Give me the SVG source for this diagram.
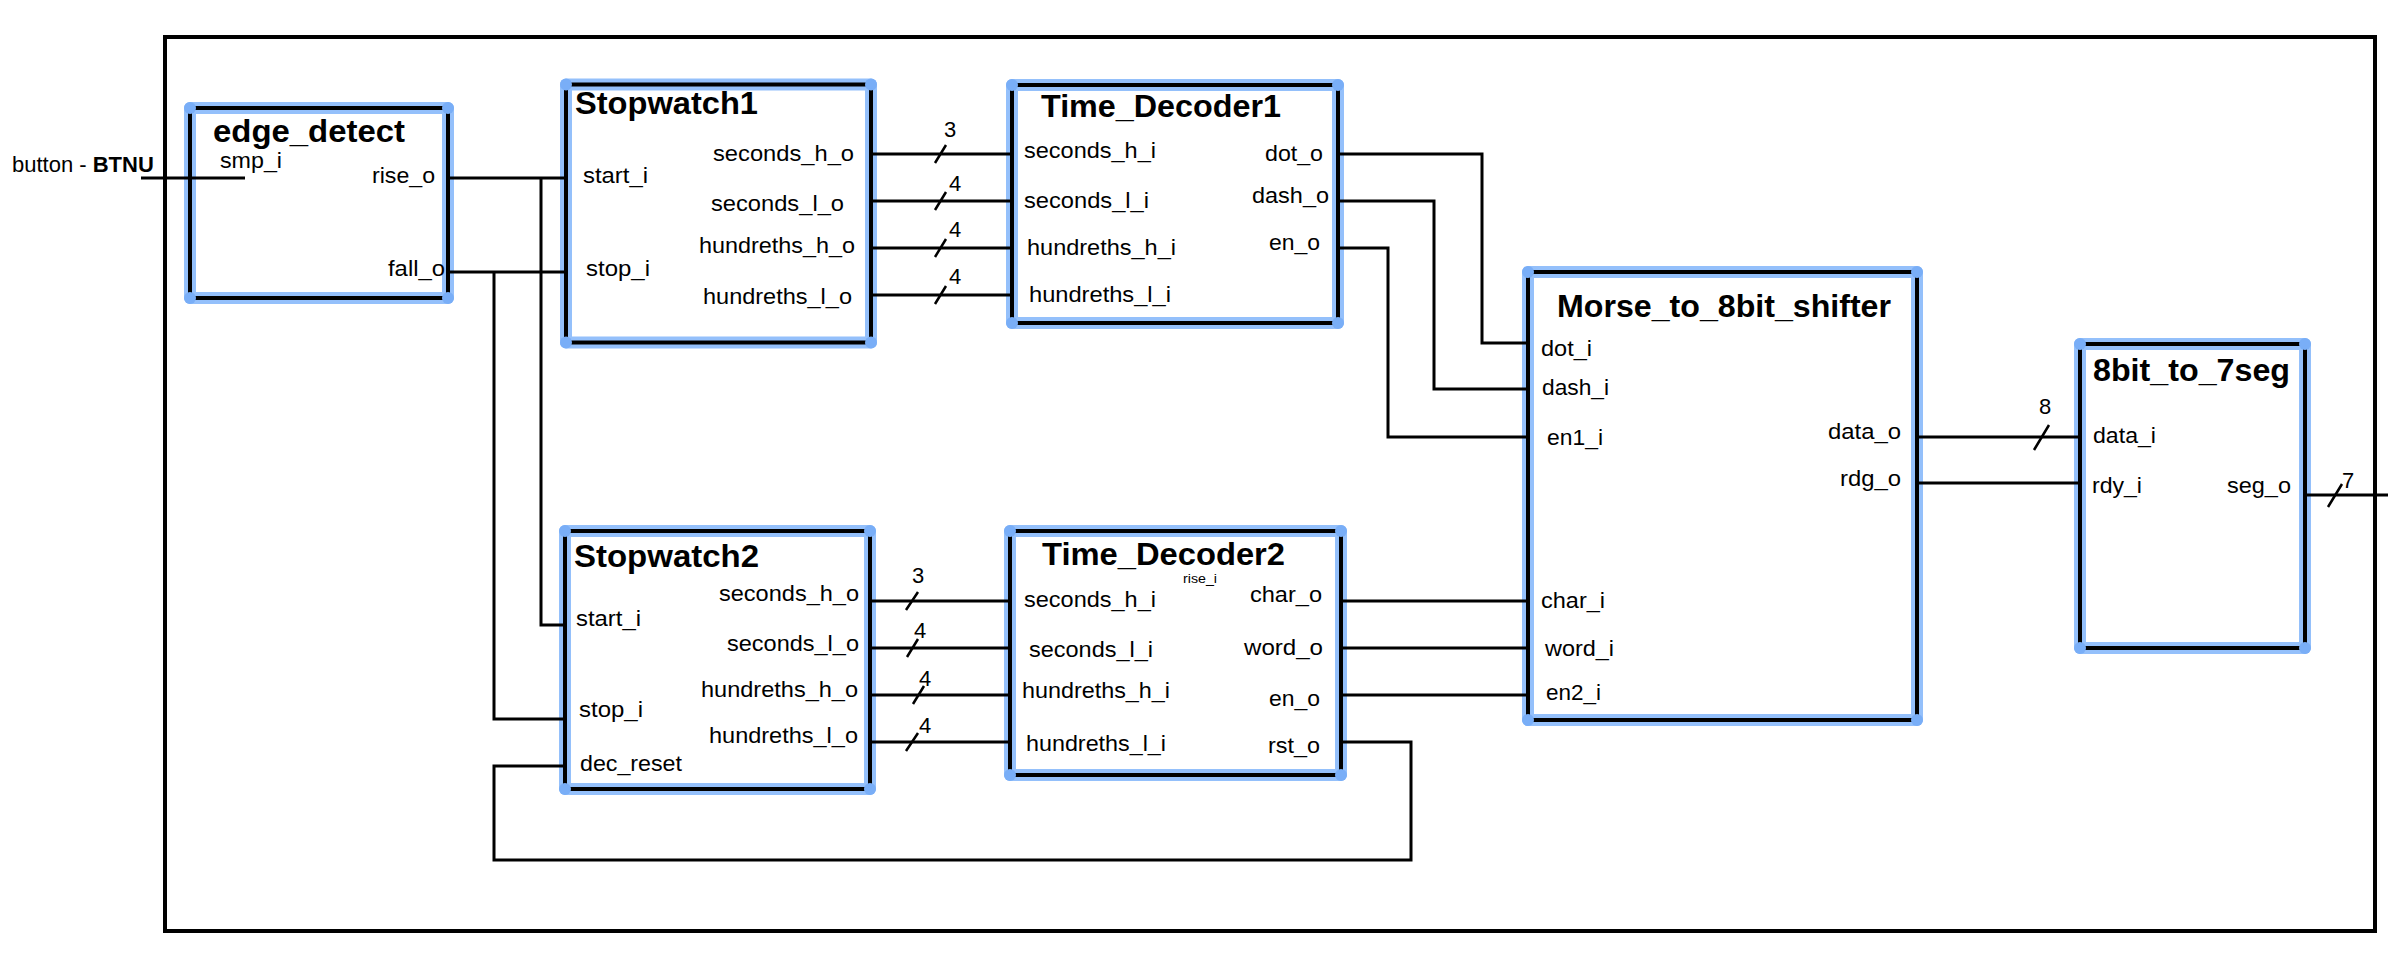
<svg xmlns="http://www.w3.org/2000/svg" width="2402" height="965" viewBox="0 0 2402 965">
  <style>
    .t { font-family: "Liberation Sans", Arial, Helvetica, sans-serif; font-size: 22px; fill: #000; }
    .h { font-size: 32px; font-weight: bold; }
    .s { font-size: 13px; }
    .hl { fill: none; stroke: #94c0fb; stroke-width: 12; stroke-linejoin: round; }
    .bx { fill: none; stroke: #000; stroke-width: 4; }
    .dot { fill: #79aef7; }
    .w { fill: none; stroke: #000; stroke-width: 3; }
    .sl { stroke: #000; stroke-width: 2.5; }
    .frame { fill: none; stroke: #000; stroke-width: 4; }
  </style>
  <defs>
    <!-- corner handles drawn on every selected block -->
    <circle id="hd" r="6" class="dot"/>
  </defs>

  <rect width="2402" height="965" fill="#fff"/>

  <!-- top-level enclosure -->
  <rect class="frame" x="165" y="37" width="2210" height="894"/>

  <!-- external input label -->
  <text class="t" x="12" y="172" font-size="21">button - <tspan font-weight="bold">BTNU</tspan></text>

  <!-- edge_detect -->
  <g id="edge_detect">
    <rect class="hl" x="190" y="108" width="258" height="190"/>
    <rect class="bx" x="190" y="108" width="258" height="190"/>
    <use href="#hd" x="190" y="108"/><use href="#hd" x="448" y="108"/><use href="#hd" x="190" y="298"/><use href="#hd" x="448" y="298"/>
    <text class="t h" x="213" y="142" textLength="192" lengthAdjust="spacingAndGlyphs">edge_detect</text>
    <text class="t" x="220" y="168" textLength="62" lengthAdjust="spacingAndGlyphs">smp_i</text>
    <text class="t" x="372" y="183" textLength="63" lengthAdjust="spacingAndGlyphs">rise_o</text>
    <text class="t" x="388" y="276" textLength="57" lengthAdjust="spacingAndGlyphs">fall_o</text>
  </g>

  <!-- Stopwatch1 -->
  <g id="stopwatch1">
    <rect class="hl" x="566" y="84.5" width="305" height="258"/>
    <rect class="bx" x="566" y="84.5" width="305" height="258"/>
    <use href="#hd" x="566" y="84.5"/><use href="#hd" x="871" y="84.5"/><use href="#hd" x="566" y="342.5"/><use href="#hd" x="871" y="342.5"/>
    <text class="t h" x="575" y="114" textLength="183" lengthAdjust="spacingAndGlyphs">Stopwatch1</text>
    <text class="t" x="583" y="183" textLength="65" lengthAdjust="spacingAndGlyphs">start_i</text>
    <text class="t" x="586" y="276" textLength="64" lengthAdjust="spacingAndGlyphs">stop_i</text>
    <text class="t" x="713" y="161" textLength="141" lengthAdjust="spacingAndGlyphs">seconds_h_o</text>
    <text class="t" x="711" y="211" textLength="133" lengthAdjust="spacingAndGlyphs">seconds_l_o</text>
    <text class="t" x="699" y="253" textLength="156" lengthAdjust="spacingAndGlyphs">hundreths_h_o</text>
    <text class="t" x="703" y="304" textLength="149" lengthAdjust="spacingAndGlyphs">hundreths_l_o</text>
  </g>

  <!-- Time_Decoder1 -->
  <g id="time_decoder1">
    <rect class="hl" x="1012" y="85" width="326" height="238"/>
    <rect class="bx" x="1012" y="85" width="326" height="238"/>
    <use href="#hd" x="1012" y="85"/><use href="#hd" x="1338" y="85"/><use href="#hd" x="1012" y="323"/><use href="#hd" x="1338" y="323"/>
    <text class="t h" x="1041" y="117" textLength="240" lengthAdjust="spacingAndGlyphs">Time_Decoder1</text>
    <text class="t" x="1024" y="158" textLength="132" lengthAdjust="spacingAndGlyphs">seconds_h_i</text>
    <text class="t" x="1024" y="208" textLength="125" lengthAdjust="spacingAndGlyphs">seconds_l_i</text>
    <text class="t" x="1027" y="255" textLength="149" lengthAdjust="spacingAndGlyphs">hundreths_h_i</text>
    <text class="t" x="1029" y="302" textLength="142" lengthAdjust="spacingAndGlyphs">hundreths_l_i</text>
    <text class="t" x="1265" y="161" textLength="58" lengthAdjust="spacingAndGlyphs">dot_o</text>
    <text class="t" x="1252" y="203" textLength="77" lengthAdjust="spacingAndGlyphs">dash_o</text>
    <text class="t" x="1269" y="250" textLength="51" lengthAdjust="spacingAndGlyphs">en_o</text>
  </g>

  <!-- Stopwatch2 -->
  <g id="stopwatch2">
    <rect class="hl" x="565" y="531" width="305" height="258"/>
    <rect class="bx" x="565" y="531" width="305" height="258"/>
    <use href="#hd" x="565" y="531"/><use href="#hd" x="870" y="531"/><use href="#hd" x="565" y="789"/><use href="#hd" x="870" y="789"/>
    <text class="t h" x="574" y="567" textLength="185" lengthAdjust="spacingAndGlyphs">Stopwatch2</text>
    <text class="t" x="576" y="626" textLength="65" lengthAdjust="spacingAndGlyphs">start_i</text>
    <text class="t" x="579" y="717" textLength="64" lengthAdjust="spacingAndGlyphs">stop_i</text>
    <text class="t" x="580" y="771" textLength="102" lengthAdjust="spacingAndGlyphs">dec_reset</text>
    <text class="t" x="719" y="601" textLength="140" lengthAdjust="spacingAndGlyphs">seconds_h_o</text>
    <text class="t" x="727" y="651" textLength="132" lengthAdjust="spacingAndGlyphs">seconds_l_o</text>
    <text class="t" x="701" y="697" textLength="157" lengthAdjust="spacingAndGlyphs">hundreths_h_o</text>
    <text class="t" x="709" y="743" textLength="149" lengthAdjust="spacingAndGlyphs">hundreths_l_o</text>
  </g>

  <!-- Time_Decoder2 -->
  <g id="time_decoder2">
    <rect class="hl" x="1010" y="531" width="331" height="244"/>
    <rect class="bx" x="1010" y="531" width="331" height="244"/>
    <use href="#hd" x="1010" y="531"/><use href="#hd" x="1341" y="531"/><use href="#hd" x="1010" y="775"/><use href="#hd" x="1341" y="775"/>
    <text class="t h" x="1042" y="565" textLength="243" lengthAdjust="spacingAndGlyphs">Time_Decoder2</text>
    <text class="t s" x="1183" y="583" textLength="34" lengthAdjust="spacingAndGlyphs">rise_i</text>
    <text class="t" x="1024" y="607" textLength="132" lengthAdjust="spacingAndGlyphs">seconds_h_i</text>
    <text class="t" x="1029" y="657" textLength="124" lengthAdjust="spacingAndGlyphs">seconds_l_i</text>
    <text class="t" x="1022" y="698" textLength="148" lengthAdjust="spacingAndGlyphs">hundreths_h_i</text>
    <text class="t" x="1026" y="751" textLength="140" lengthAdjust="spacingAndGlyphs">hundreths_l_i</text>
    <text class="t" x="1250" y="602" textLength="72" lengthAdjust="spacingAndGlyphs">char_o</text>
    <text class="t" x="1244" y="655" textLength="79" lengthAdjust="spacingAndGlyphs">word_o</text>
    <text class="t" x="1269" y="706" textLength="51" lengthAdjust="spacingAndGlyphs">en_o</text>
    <text class="t" x="1268" y="753" textLength="52" lengthAdjust="spacingAndGlyphs">rst_o</text>
  </g>

  <!-- Morse_to_8bit_shifter -->
  <g id="morse_shifter">
    <rect class="hl" x="1528" y="272" width="389" height="448"/>
    <rect class="bx" x="1528" y="272" width="389" height="448"/>
    <use href="#hd" x="1528" y="272"/><use href="#hd" x="1917" y="272"/><use href="#hd" x="1528" y="720"/><use href="#hd" x="1917" y="720"/>
    <text class="t h" x="1557" y="317" textLength="334" lengthAdjust="spacingAndGlyphs">Morse_to_8bit_shifter</text>
    <text class="t" x="1541" y="356" textLength="51" lengthAdjust="spacingAndGlyphs">dot_i</text>
    <text class="t" x="1542" y="395" textLength="67" lengthAdjust="spacingAndGlyphs">dash_i</text>
    <text class="t" x="1547" y="445" textLength="56" lengthAdjust="spacingAndGlyphs">en1_i</text>
    <text class="t" x="1828" y="439" textLength="73" lengthAdjust="spacingAndGlyphs">data_o</text>
    <text class="t" x="1840" y="486" textLength="61" lengthAdjust="spacingAndGlyphs">rdg_o</text>
    <text class="t" x="1541" y="608" textLength="64" lengthAdjust="spacingAndGlyphs">char_i</text>
    <text class="t" x="1545" y="656" textLength="69" lengthAdjust="spacingAndGlyphs">word_i</text>
    <text class="t" x="1546" y="700" textLength="55" lengthAdjust="spacingAndGlyphs">en2_i</text>
  </g>

  <!-- 8bit_to_7seg -->
  <g id="bit8_to_7seg">
    <rect class="hl" x="2080" y="344" width="225" height="304"/>
    <rect class="bx" x="2080" y="344" width="225" height="304"/>
    <use href="#hd" x="2080" y="344"/><use href="#hd" x="2305" y="344"/><use href="#hd" x="2080" y="648"/><use href="#hd" x="2305" y="648"/>
    <text class="t h" x="2093" y="381" textLength="197" lengthAdjust="spacingAndGlyphs">8bit_to_7seg</text>
    <text class="t" x="2093" y="443" textLength="63" lengthAdjust="spacingAndGlyphs">data_i</text>
    <text class="t" x="2092" y="493" textLength="50" lengthAdjust="spacingAndGlyphs">rdy_i</text>
    <text class="t" x="2227" y="493" textLength="64" lengthAdjust="spacingAndGlyphs">seg_o</text>
  </g>

  <!-- wiring -->
  <g id="connectors">
    <path class="w" d="M141 178 H245"/>
    <path class="w" d="M448 178 H566 M541 178 V625 H565"/>
    <path class="w" d="M448 272 H566 M494 272 V719 H565"/>
    <path class="w" d="M565 766 H494 V860 H1411 V742 H1341"/>

    <path class="w" d="M871 154 H1012 M871 201 H1012 M871 248 H1012 M871 295 H1012"/>
    <path class="w" d="M870 601 H1010 M870 648 H1010 M870 695 H1010 M870 742 H1010"/>

    <path class="w" d="M1338 154 H1482 V343 H1528"/>
    <path class="w" d="M1338 201 H1434 V389 H1528"/>
    <path class="w" d="M1338 248 H1388 V437 H1528"/>

    <path class="w" d="M1341 601 H1528 M1341 648 H1528 M1341 695 H1528"/>

    <path class="w" d="M1917 437 H2080 M1917 483 H2082"/>
    <path class="w" d="M2305 495 H2388"/>

    <!-- bus width marks -->
    <path class="sl" d="M935 163 L946 145 M935 210 L946 192 M935 257 L946 239 M935 304 L946 286"/>
    <path class="sl" d="M906 610 L918 592 M907 657 L918 639 M913 704 L924 686 M906 751 L918 733"/>
    <path class="sl" d="M2034 450 L2049 425 M2328 507 L2342 484"/>
    <text class="t" x="944" y="137">3</text>
    <text class="t" x="949" y="191">4</text>
    <text class="t" x="949" y="237">4</text>
    <text class="t" x="949" y="284">4</text>
    <text class="t" x="912" y="583">3</text>
    <text class="t" x="914" y="638">4</text>
    <text class="t" x="919" y="686">4</text>
    <text class="t" x="919" y="733">4</text>
    <text class="t" x="2039" y="414">8</text>
    <text class="t" x="2342" y="488">7</text>
  </g>
</svg>
